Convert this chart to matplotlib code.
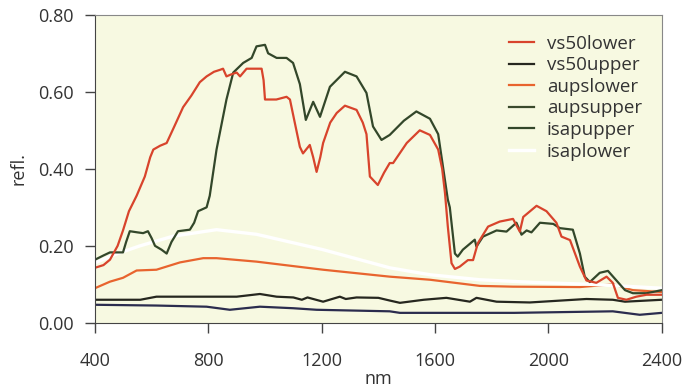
import matplotlib
matplotlib.use("Agg")
import matplotlib.pyplot as plt

plt.rcParams["font.family"] = ["Open Sans", "DejaVu Sans"]

# wavelength (nm) / reflectance pairs
vs50lower_x = [400, 430, 453, 480, 499, 520, 547, 576, 595, 606, 630, 653, 680, 711, 740, 770,
               794, 820, 841, 852, 864, 880, 900, 912, 935, 960, 988, 995, 1000, 1040, 1076, 1088,
               1105, 1123, 1134, 1158, 1170, 1182, 1195, 1205, 1230, 1253, 1282, 1323, 1345, 1358,
               1370, 1398, 1420, 1440, 1452, 1500, 1546, 1582, 1611, 1625, 1635, 1645, 1658, 1670,
               1687, 1716, 1734, 1751, 1787, 1828, 1875, 1899, 1911, 1958, 1993, 2028, 2046, 2076,
               2111, 2134, 2169, 2205, 2227, 2245, 2275, 2310, 2346, 2400]
vs50lower_y = [0.143, 0.15, 0.164, 0.2, 0.24, 0.29, 0.33, 0.38, 0.43, 0.45, 0.46, 0.467, 0.51, 0.56,
               0.59, 0.625, 0.64, 0.652, 0.657, 0.66, 0.64, 0.645, 0.65, 0.64, 0.66, 0.66, 0.66, 0.63,
               0.58, 0.58, 0.587, 0.58, 0.52, 0.457, 0.44, 0.462, 0.43, 0.392, 0.43, 0.467, 0.52,
               0.545, 0.564, 0.553, 0.52, 0.49, 0.38, 0.358, 0.39, 0.415, 0.415, 0.467, 0.50, 0.488,
               0.45, 0.40, 0.337, 0.25, 0.155, 0.14, 0.146, 0.163, 0.163, 0.207, 0.25, 0.263, 0.27,
               0.237, 0.275, 0.304, 0.29, 0.26, 0.224, 0.215, 0.146, 0.11, 0.104, 0.12, 0.104, 0.065,
               0.06, 0.068, 0.073, 0.073]

isapupper_x = [400, 430, 453, 499, 510, 523, 550, 570, 587, 600, 612, 635, 653, 670, 693, 735, 750,
               764, 794, 805, 829, 864, 888, 923, 953, 970, 1000, 1011, 1041, 1076, 1099, 1123, 1144,
               1170, 1194, 1229, 1282, 1323, 1358, 1381, 1411, 1440, 1490, 1534, 1582, 1611, 1628,
               1645, 1652, 1670, 1680, 1698, 1740, 1746, 1769, 1817, 1852, 1887, 1905, 1923, 1940,
               1970, 2017, 2040, 2086, 2111, 2128, 2146, 2181, 2210, 2240, 2270, 2298, 2346, 2400]
isapupper_y = [0.164, 0.175, 0.183, 0.183, 0.21, 0.238, 0.235, 0.233, 0.238, 0.22, 0.20, 0.19, 0.18,
               0.21, 0.238, 0.242, 0.26, 0.29, 0.30, 0.33, 0.45, 0.58, 0.65, 0.675, 0.688, 0.718,
               0.722, 0.70, 0.688, 0.688, 0.675, 0.62, 0.527, 0.574, 0.535, 0.613, 0.652, 0.64, 0.597,
               0.51, 0.475, 0.488, 0.525, 0.549, 0.53, 0.49, 0.405, 0.32, 0.30, 0.18, 0.172, 0.19,
               0.216, 0.198, 0.224, 0.24, 0.237, 0.26, 0.229, 0.24, 0.235, 0.26, 0.257, 0.246, 0.242,
               0.18, 0.12, 0.106, 0.13, 0.135, 0.11, 0.085, 0.077, 0.077, 0.085]

aupslower_x = [400, 453, 499, 547, 617, 700, 782, 829, 970, 1205, 1440, 1582, 1758, 1875, 2111,
               2227, 2298, 2400]
aupslower_y = [0.09, 0.107, 0.117, 0.136, 0.138, 0.157, 0.168, 0.168, 0.159, 0.138, 0.12, 0.112,
               0.096, 0.094, 0.093, 0.10, 0.085, 0.08]

isaplower_x = [400, 480, 559, 675, 829, 970, 1205, 1440, 1582, 1758, 1950, 2150, 2400]
isaplower_y = [0.156, 0.18, 0.20, 0.225, 0.242, 0.23, 0.19, 0.143, 0.125, 0.112, 0.105, 0.1, 0.09]

vs50upper_x = [400, 560, 617, 900, 982, 1041, 1100, 1130, 1150, 1205, 1264, 1285, 1323, 1400, 1440,
               1476, 1560, 1640, 1723, 1746, 1817, 1934, 2134, 2227, 2270, 2400]
vs50upper_y = [0.06, 0.06, 0.068, 0.068, 0.075, 0.068, 0.066, 0.06, 0.066, 0.055, 0.068, 0.062,
               0.066, 0.065, 0.058, 0.052, 0.06, 0.065, 0.055, 0.065, 0.055, 0.053, 0.062, 0.06,
               0.055, 0.06]

aupsupper_x = [400, 617, 794, 876, 982, 1100, 1182, 1440, 1476, 1880, 2227, 2322, 2400]
aupsupper_y = [0.047, 0.045, 0.042, 0.034, 0.042, 0.038, 0.034, 0.03, 0.026, 0.026, 0.03, 0.021, 0.026]

fig = plt.figure(figsize=(6.83, 3.89), dpi=100)
ax = fig.add_axes([0.139, 0.170, 0.830, 0.792])
ax.set_facecolor("#f7f9e1")

lw = 1.6
ax.plot(aupslower_x, aupslower_y, color="#e8642e", lw=lw)
ax.plot(isaplower_x, isaplower_y, color="#ffffff", lw=2.4)
ax.plot(vs50upper_x, vs50upper_y, color="#26271f", lw=lw)
ax.plot(aupsupper_x, aupsupper_y, color="#2b2c4e", lw=lw)
ax.plot(isapupper_x, isapupper_y, color="#33472a", lw=lw)
ax.plot(vs50lower_x, vs50lower_y, color="#d8442c", lw=lw)

handles = [
    plt.Line2D([], [], color="#d8442c", lw=lw, label="vs50lower"),
    plt.Line2D([], [], color="#26271f", lw=lw, label="vs50upper"),
    plt.Line2D([], [], color="#e8642e", lw=lw, label="aupslower"),
    plt.Line2D([], [], color="#3a4a2c", lw=lw, label="aupsupper"),
    plt.Line2D([], [], color="#33472a", lw=lw, label="isapupper"),
    plt.Line2D([], [], color="#ffffff", lw=2.4, label="isaplower"),
]
ax.legend(handles=handles, loc="upper right", frameon=False, fontsize=13.5,
          handlelength=1.35, handletextpad=0.7, labelspacing=0.19,
          bbox_to_anchor=(0.995, 0.99), labelcolor="#333333")

ax.set_xlim(400, 2400)
ax.set_ylim(0, 0.8)
ax.set_xticks([400, 800, 1200, 1600, 2000, 2400])
ax.set_yticks([0, 0.2, 0.4, 0.6, 0.8])
ax.set_yticklabels(["0.00", "0.20", "0.40", "0.60", "0.80"])
ax.tick_params(direction="out", length=7, width=1, colors="#444444", labelsize=13,
               labelcolor="#333333")
ax.tick_params(axis="x", pad=14)
ax.tick_params(axis="y", pad=8)
ax.set_xlabel("nm", fontsize=13, color="#333333", labelpad=0)
ax.set_ylabel("refl.", fontsize=13, color="#333333", labelpad=8)

for side in ["left", "bottom"]:
    ax.spines[side].set_color("#444444")
for side in ["top", "right"]:
    ax.spines[side].set_color("#888888")

fig.savefig("out.png", dpi=100)
